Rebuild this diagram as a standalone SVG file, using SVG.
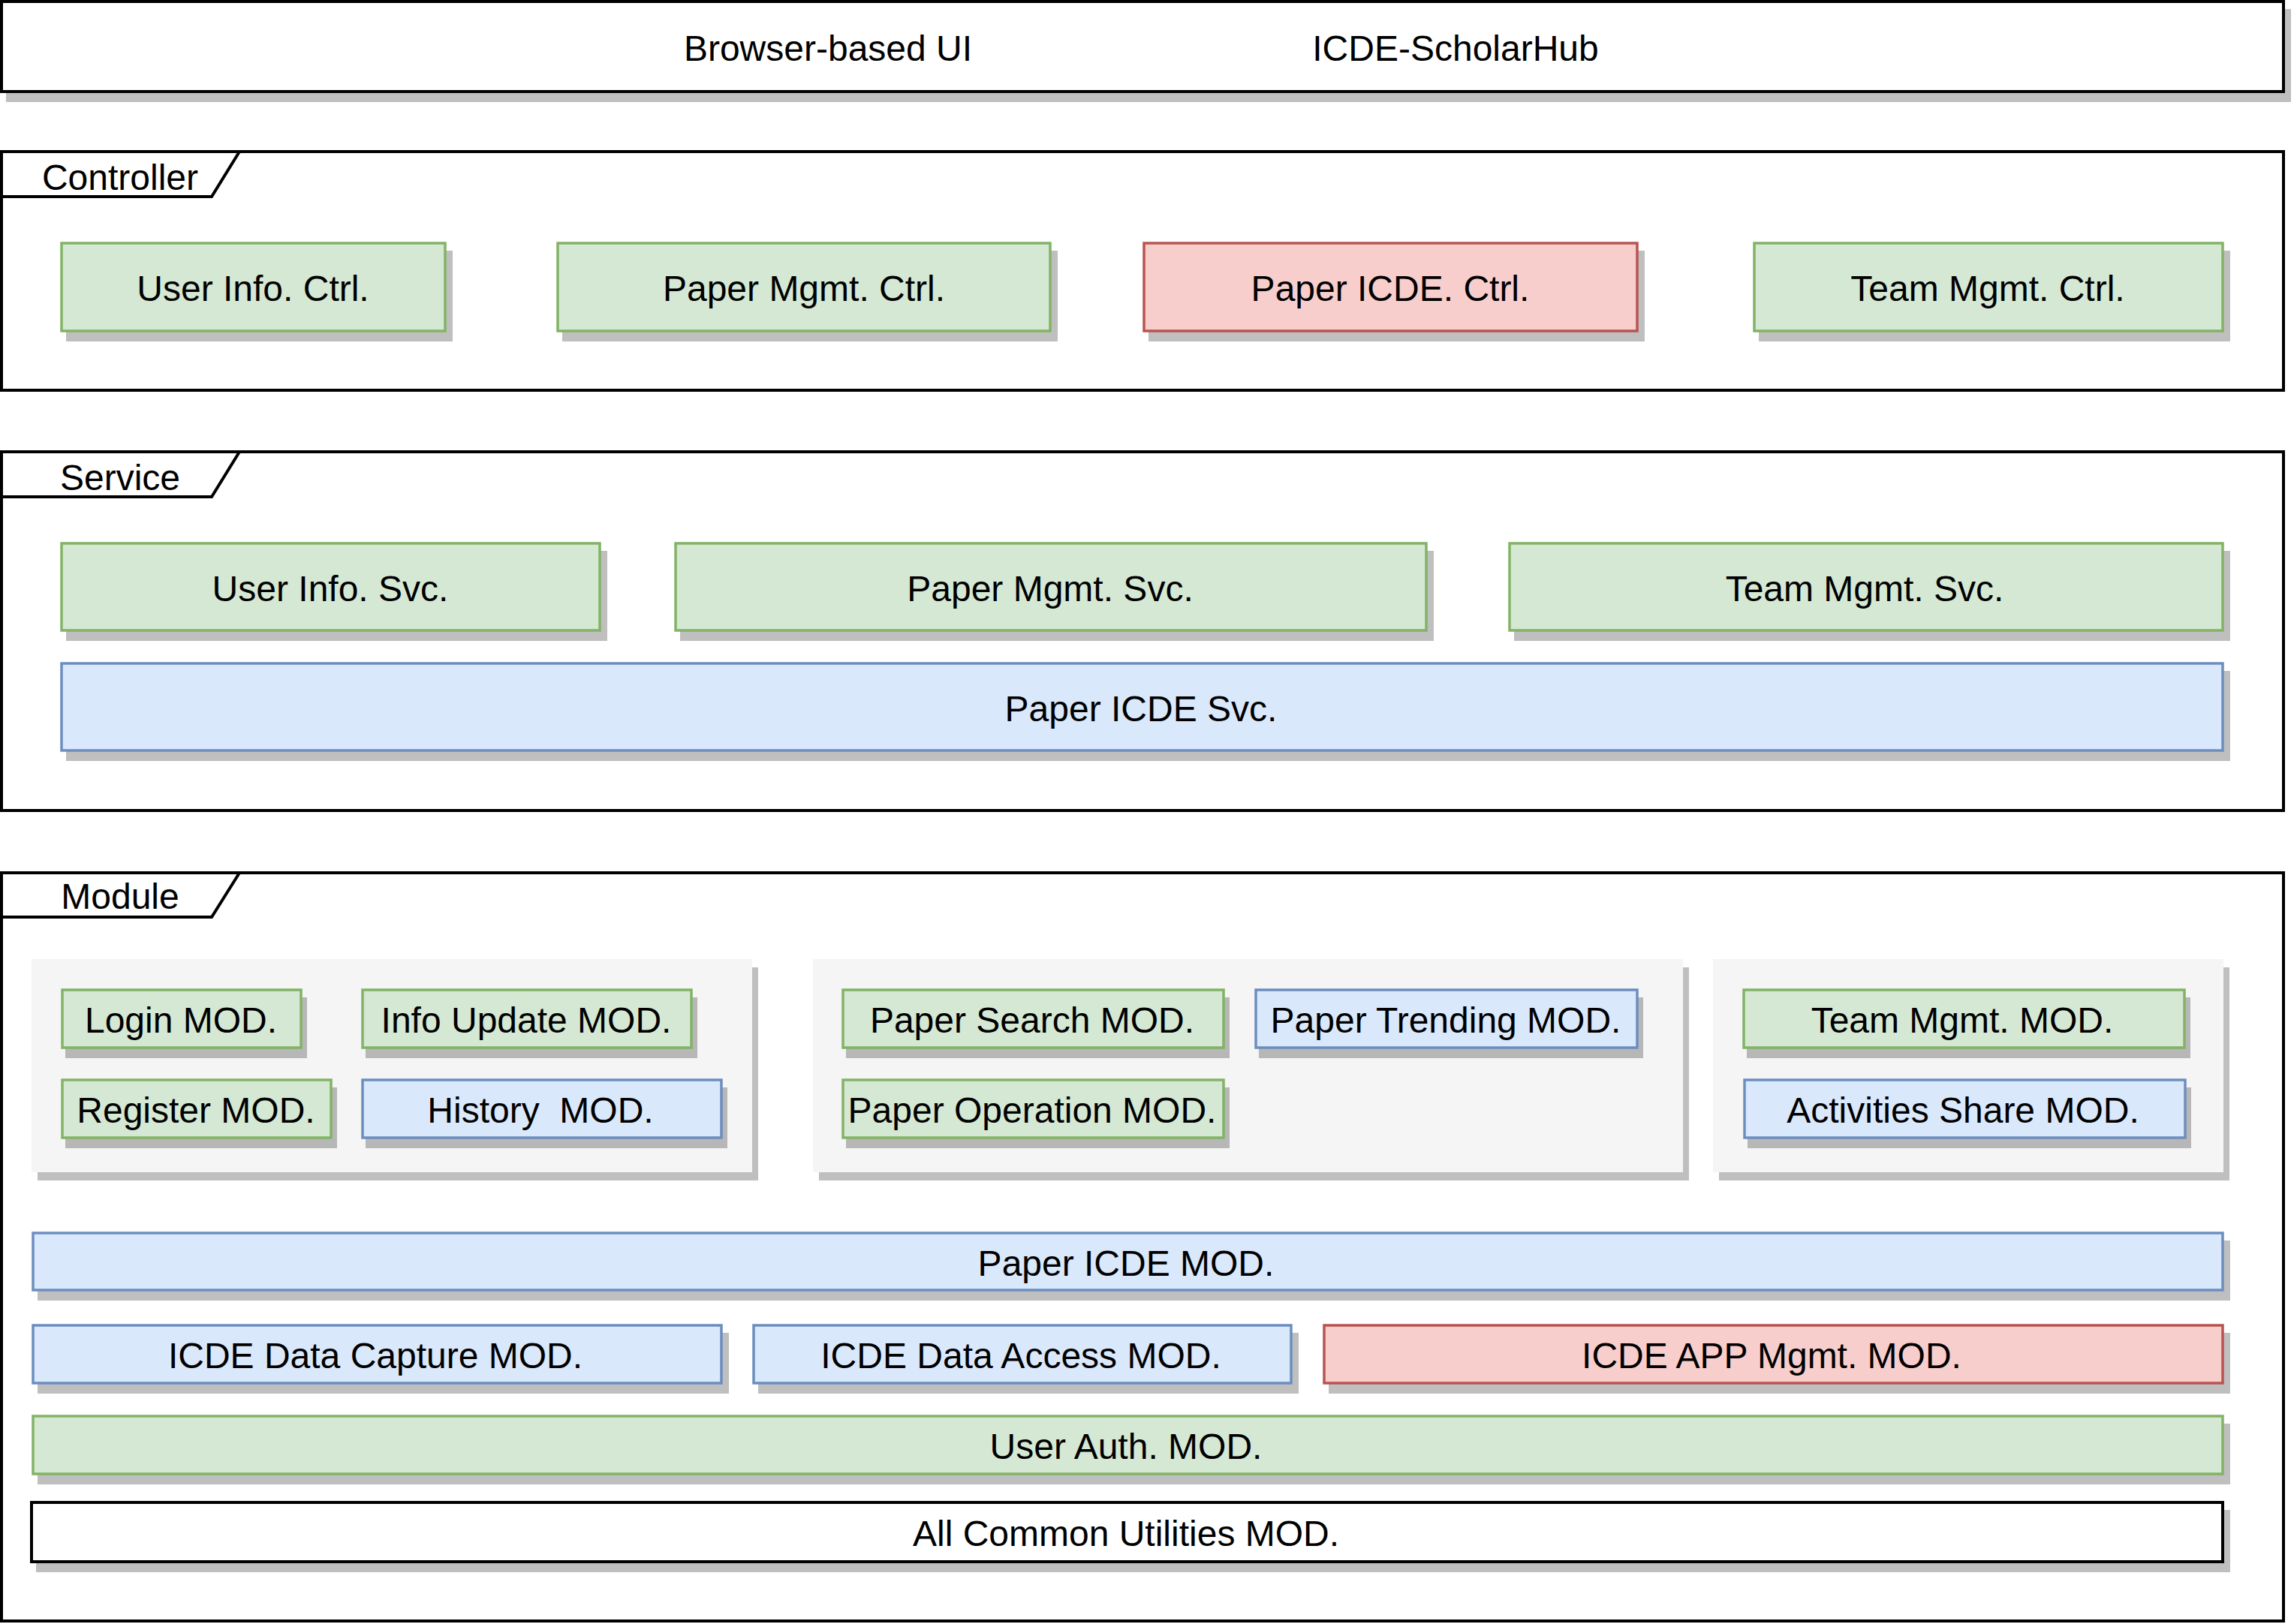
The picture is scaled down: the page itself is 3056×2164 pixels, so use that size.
<svg xmlns="http://www.w3.org/2000/svg" width="3056" height="2164" viewBox="0 0 3056 2164">
<style>
text{font-family:"Liberation Sans",Arial,Helvetica,sans-serif;font-size:48px;fill:#000;text-anchor:middle}
.sh{fill:#000;fill-opacity:.25;stroke:none}
.ct{fill:#fff;stroke:#000;stroke-width:4}
.ctn{fill:none;stroke:#000;stroke-width:4}
.g{fill:#d5e8d4;stroke:#82b366;stroke-width:3.5}
.b{fill:#dae8fc;stroke:#6c8ebf;stroke-width:3.5}
.r{fill:#f8cecc;stroke:#b85450;stroke-width:3.5}
.w{fill:#fff;stroke:#000;stroke-width:4}
.grp{fill:#f5f5f5;stroke:none}
</style>
<rect width="3056" height="2164" fill="#fff"/>

<g id="ui">
<rect class="sh" x="8" y="12" width="3044" height="124"/>
<rect class="ct" x="2" y="2" width="3040" height="120"/>
<text x="1103" y="81">Browser-based UI</text>
<text x="1939" y="81">ICDE-ScholarHub</text>
</g>

<g id="controller">
<rect class="ctn" x="2" y="202" width="3040" height="318"/>
<path class="ctn" d="M2,262 L282,262 L319,202"/>
<text x="160" y="253">Controller</text>
</g>
<g id="user-info-ctrl"><rect class="sh" x="88" y="334" width="515" height="121"/><rect class="g" x="82" y="324" width="511" height="117"/><text x="337" y="401">User Info. Ctrl.</text></g>
<g id="paper-mgmt-ctrl"><rect class="sh" x="749" y="334" width="660" height="121"/><rect class="g" x="743" y="324" width="656" height="117"/><text x="1071" y="401">Paper Mgmt. Ctrl.</text></g>
<g id="paper-icde-ctrl"><rect class="sh" x="1530" y="334" width="661" height="121"/><rect class="r" x="1524" y="324" width="657" height="117"/><text x="1852" y="401">Paper ICDE. Ctrl.</text></g>
<g id="team-mgmt-ctrl"><rect class="sh" x="2343" y="334" width="628" height="121"/><rect class="g" x="2337" y="324" width="624" height="117"/><text x="2648" y="401">Team Mgmt. Ctrl.</text></g>

<g id="service">
<rect class="ctn" x="2" y="602" width="3040" height="478"/>
<path class="ctn" d="M2,662 L282,662 L319,602"/>
<text x="160" y="653">Service</text>
</g>
<g id="user-info-svc"><rect class="sh" x="88" y="734" width="721" height="120"/><rect class="g" x="82" y="724" width="717" height="116"/><text x="440" y="801">User Info. Svc.</text></g>
<g id="paper-mgmt-svc"><rect class="sh" x="906" y="734" width="1004" height="120"/><rect class="g" x="900" y="724" width="1000" height="116"/><text x="1399" y="801">Paper Mgmt. Svc.</text></g>
<g id="team-mgmt-svc"><rect class="sh" x="2017" y="734" width="954" height="120"/><rect class="g" x="2011" y="724" width="950" height="116"/><text x="2484" y="801">Team Mgmt. Svc.</text></g>
<g id="paper-icde-svc"><rect class="sh" x="88" y="894" width="2883" height="120"/><rect class="b" x="82" y="884" width="2879" height="116"/><text x="1520" y="961">Paper ICDE Svc.</text></g>

<g id="module">
<rect class="ctn" x="2" y="1163" width="3040" height="997"/>
<path class="ctn" d="M2,1222 L282,1222 L319,1163"/>
<text x="160" y="1211">Module</text>
</g>
<g id="group-user"><rect class="sh" x="50" y="1289" width="960" height="284"/><rect class="grp" x="42" y="1278" width="960" height="284"/></g>
<g id="group-paper"><rect class="sh" x="1091" y="1289" width="1159" height="284"/><rect class="grp" x="1083" y="1278" width="1159" height="284"/></g>
<g id="group-team"><rect class="sh" x="2290" y="1289" width="680" height="284"/><rect class="grp" x="2282" y="1278" width="680" height="284"/></g>

<g id="login-mod"><rect class="sh" x="87" y="1329" width="322" height="81"/><rect class="g" x="83" y="1319" width="318" height="77"/><text x="241" y="1376">Login MOD.</text></g>
<g id="info-update-mod"><rect class="sh" x="487" y="1329" width="442" height="81"/><rect class="g" x="483" y="1319" width="438" height="77"/><text x="701" y="1376">Info Update MOD.</text></g>
<g id="register-mod"><rect class="sh" x="87" y="1449" width="362" height="81"/><rect class="g" x="83" y="1439" width="358" height="77"/><text x="261" y="1496">Register MOD.</text></g>
<g id="history-mod"><rect class="sh" x="487" y="1449" width="482" height="81"/><rect class="b" x="483" y="1439" width="478" height="77"/><text x="720" y="1496" xml:space="preserve">History  MOD.</text></g>
<g id="paper-search-mod"><rect class="sh" x="1127" y="1329" width="511" height="81"/><rect class="g" x="1123" y="1319" width="507" height="77"/><text x="1375" y="1376">Paper Search MOD.</text></g>
<g id="paper-trending-mod"><rect class="sh" x="1677" y="1329" width="512" height="81"/><rect class="b" x="1673" y="1319" width="508" height="77"/><text x="1926" y="1376">Paper Trending MOD.</text></g>
<g id="paper-operation-mod"><rect class="sh" x="1127" y="1449" width="511" height="81"/><rect class="g" x="1123" y="1439" width="507" height="77"/><text x="1375" y="1496">Paper Operation MOD.</text></g>
<g id="team-mgmt-mod"><rect class="sh" x="2327" y="1329" width="591" height="81"/><rect class="g" x="2323" y="1319" width="587" height="77"/><text x="2614" y="1376">Team Mgmt. MOD.</text></g>
<g id="activities-share-mod"><rect class="sh" x="2328" y="1449" width="591" height="81"/><rect class="b" x="2324" y="1439" width="587" height="77"/><text x="2615" y="1496">Activities Share MOD.</text></g>

<g id="paper-icde-mod"><rect class="sh" x="50" y="1653" width="2921" height="80"/><rect class="b" x="44" y="1643" width="2917" height="76"/><text x="1500" y="1700">Paper ICDE MOD.</text></g>
<g id="icde-data-capture-mod"><rect class="sh" x="50" y="1776" width="921" height="81"/><rect class="b" x="44" y="1766" width="917" height="77"/><text x="500" y="1823">ICDE Data Capture MOD.</text></g>
<g id="icde-data-access-mod"><rect class="sh" x="1010" y="1776" width="720" height="81"/><rect class="b" x="1004" y="1766" width="716" height="77"/><text x="1360" y="1823">ICDE Data Access MOD.</text></g>
<g id="icde-app-mgmt-mod"><rect class="sh" x="1770" y="1776" width="1201" height="81"/><rect class="r" x="1764" y="1766" width="1197" height="77"/><text x="2360" y="1823">ICDE APP Mgmt. MOD.</text></g>
<g id="user-auth-mod"><rect class="sh" x="50" y="1897" width="2921" height="81"/><rect class="g" x="44" y="1887" width="2917" height="77"/><text x="1500" y="1944">User Auth. MOD.</text></g>
<g id="common-utilities-mod"><rect class="sh" x="48" y="2012" width="2923" height="83"/><rect class="w" x="42" y="2002" width="2919" height="79"/><text x="1500" y="2060">All Common Utilities MOD.</text></g>

<g id="connectors"/>
</svg>
